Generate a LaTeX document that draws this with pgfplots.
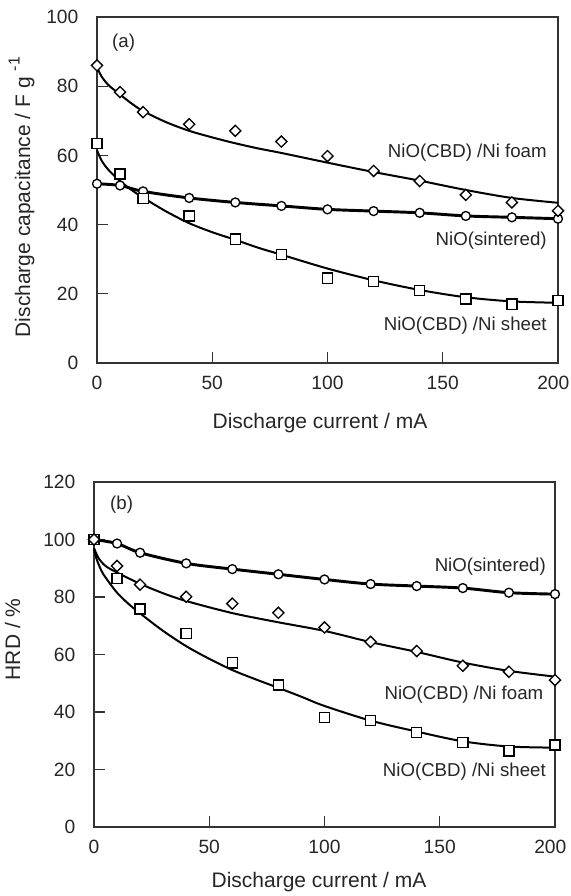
\documentclass[border=0pt]{standalone}
\usepackage{pgfplots}
\pgfplotsset{compat=1.18}
\usepackage{fontspec}
\setmainfont{Liberation Sans}
\definecolor{txt}{HTML}{262626}
\tikzset{ann/.style={font=\fontsize{14}{16}\selectfont, text=txt, anchor=base east, inner sep=0pt}}
\begin{document}
\begin{tikzpicture}
\useasboundingbox (0,0) rectangle (428.25pt,672pt);
\pgfplotsset{
  myaxis/.style={
    scale only axis,
    width=345.75pt,
    xmin=0, xmax=200, ymin=0,
    xtick={0,50,100,150,200},
    xticklabels={0,50,100,150,\hspace*{-7pt}200},
    tick align=inside,
    xtick pos=left, ytick pos=left,
    major tick length=8.25pt,
    axis line style={black!80, line width=0.9pt},
    every tick/.style={black!80, line width=0.9pt},
    /pgf/number format/assume math mode=true,
    tick label style={font=\fontsize{14.4}{16}\selectfont, text=txt},
    yticklabel style={xshift=-10.5pt},
    xticklabel style={yshift=-6pt},
    label style={font=\fontsize{15.75}{18}\selectfont, text=txt},
    clip=false,
  },
  fit/.style={black, line width=1.5pt, smooth, no marks},
  sint/.style={black, line width=2.2pt, smooth, no marks},
  pts/.style={only marks, mark options={fill=white, draw=black, line width=1pt}},
  dia/.style={pts, mark=square*, mark size=2.95pt, mark options={rotate=45, fill=white, draw=black, line width=1pt}},
  sq/.style={pts, mark=square*, mark size=3.8pt},
  ci/.style={pts, mark=*, mark size=3.35pt},
}
% ---------- panel (a)
\begin{axis}[myaxis,
  at={(72.75pt,399.75pt)}, anchor=south west,
  height=259.5pt, ymax=100, ytick={0,20,40,60,80,100},
  xlabel={Discharge current / mA},
  ylabel={Discharge capacitance / F g \raisebox{0.5em}{\fontsize{12}{12}\selectfont -1}},
  xlabel style={at={(axis description cs:0.4837,-0.1887)}, anchor=base},
  ylabel style={at={(axis description cs:-0.1453,0.0607)}, anchor=base west},
]
\addplot[fit] coordinates {(0,85.5) (2,82.8) (5,80.3) (10,77.6) (15,75) (20,72.8) (30,69.6) (40,67.1) (50,65.2) (60,63.5) (70,62) (80,60.7) (100,57.9) (120,55.2) (140,52.7) (160,50) (180,47.7) (200,46.3)};
\addplot[fit] coordinates {(0,61.5) (2,58.5) (5,55.8) (10,52.6) (15,50) (20,47.8) (30,43.8) (40,40.4) (50,37.8) (60,35.6) (70,33.3) (80,31.3) (100,27.3) (120,23.9) (140,21.1) (160,19) (180,17.8) (200,17.4)};
\addplot[sint] coordinates {(0,51.8) (10,51.3) (20,49.6) (40,47.7) (60,46.4) (80,45.4) (100,44.4) (120,43.9) (140,43.4) (160,42.5) (180,42.1) (200,41.7)};
\addplot[ci] coordinates {(0,51.8) (10,51.3) (20,49.6) (40,47.7) (60,46.4) (80,45.4) (100,44.4) (120,43.9) (140,43.4) (160,42.5) (180,42.1) (200,41.7)};
\addplot[sq] coordinates {(0,63.5) (10,54.6) (20,47.6) (40,42.5) (60,35.8) (80,31.4) (100,24.5) (120,23.5) (140,20.9) (160,18.5) (180,17) (200,18)};
\addplot[dia] coordinates {(0,86) (10,78.3) (20,72.5) (40,69) (60,67.1) (80,64) (100,59.8) (120,55.5) (140,52.6) (160,48.6) (180,46.4) (200,44)};
\node[ann] at (axis cs:195.2,59.5) {NiO(CBD) /Ni foam};
\node[ann] at (axis cs:195.2,34.1) {NiO(sintered)};
\node[ann] at (axis cs:195.2,9.5) {NiO(CBD) /Ni sheet};
\node[ann, anchor=base west] at (axis cs:6.5,91.3) {(a)};
\end{axis}
% ---------- panel (b)
\begin{axis}[myaxis,
  at={(70.5pt,51.75pt)}, anchor=south west,
  height=258.75pt, ymax=120, ytick={0,20,40,60,80,100,120},
  xlabel={Discharge current / mA},
  ylabel={HRD / \%},
  xlabel style={at={(axis description cs:0.488,-0.1748)}, anchor=base},
  ylabel style={at={(axis description cs:-0.1605,0.4116)}, anchor=base west},
]
\addplot[fit] coordinates {(0,97) (2,93.5) (5,90.8) (10,88.5) (20,84.6) (30,81.3) (40,78.6) (60,74.4) (80,71.2) (100,68.2) (120,64.3) (140,60.9) (160,57.2) (180,54.3) (200,52.3)};
\addplot[fit] coordinates {(0,97) (1,93.5) (3,89.5) (5,86.8) (10,81.5) (15,77.6) (20,74.3) (30,68.2) (40,62.9) (50,58.5) (60,54.6) (70,51.4) (80,48.4) (90,45.3) (100,42.1) (120,37) (140,33.2) (160,29.8) (180,28) (200,27.6)};
\addplot[sint] coordinates {(0,100) (10,98.6) (20,95.4) (40,91.7) (60,89.7) (80,87.9) (100,86.1) (120,84.5) (140,83.8) (160,83.1) (180,81.5) (200,81)};
\addplot[ci] coordinates {(0,100) (10,98.6) (20,95.4) (40,91.7) (60,89.7) (80,87.9) (100,86.1) (120,84.5) (140,83.8) (160,83.1) (180,81.5) (200,81)};
\addplot[sq] coordinates {(0,100) (10,86.4) (20,75.8) (40,67.3) (60,57.1) (80,49.4) (100,38.1) (120,37) (140,32.8) (160,29.3) (180,26.5) (200,28.5)};
\addplot[dia] coordinates {(0,100) (10,90.8) (20,84.3) (40,80.1) (60,77.7) (80,74.5) (100,69.4) (120,64.4) (140,61.2) (160,56.1) (180,54) (200,51.1)};
\node[ann] at (axis cs:196.1,88.7) {NiO(sintered)};
\node[ann] at (axis cs:195,44.4) {NiO(CBD) /Ni foam};
\node[ann] at (axis cs:196.1,17.5) {NiO(CBD) /Ni sheet};
\node[ann, anchor=base west] at (axis cs:6.9,110.3) {(b)};
\end{axis}
\end{tikzpicture}
\end{document}
